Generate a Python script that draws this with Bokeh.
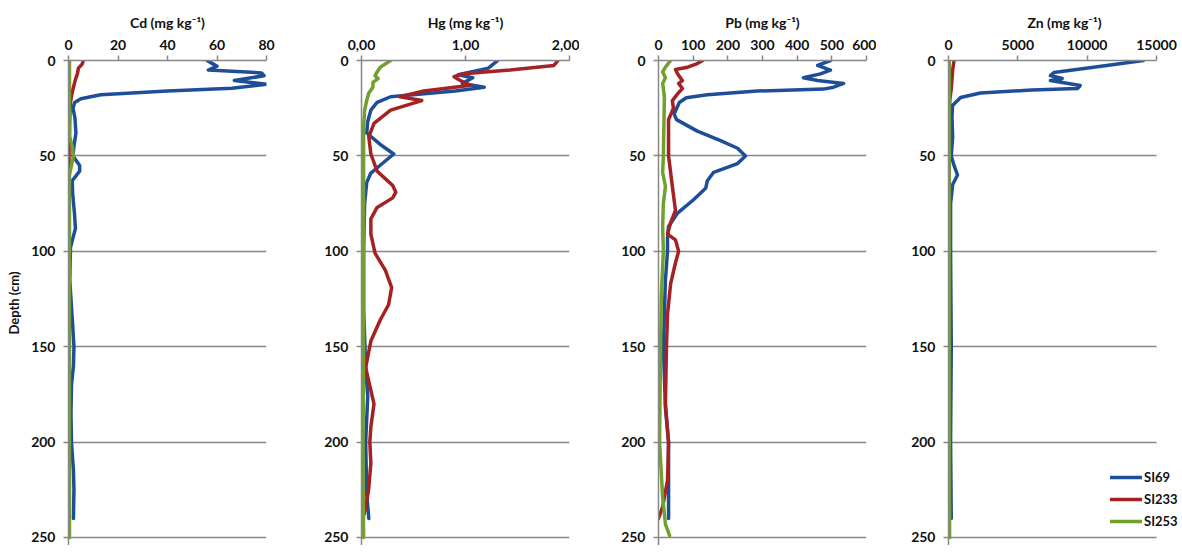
from bokeh.plotting import figure
from bokeh.models import Range1d, FixedTicker, Legend, LegendItem
from bokeh.layouts import row
from bokeh.embed import file_html
from bokeh.resources import INLINE

# ---------------- data (depth in cm, concentrations in mg/kg) ----------------
core_names = ["SI69", "SI233", "SI253"]

cd_si69_depth = [0, 1.5, 3, 5, 6.5, 8, 10.5, 12.5, 14.5, 16, 18, 20, 22, 25, 30, 38, 45, 50, 55, 58, 63, 70, 80, 88, 98, 115, 135, 150, 160, 170, 185, 200, 215, 225, 240]
cd_si69 = [56, 58, 60, 56.5, 78, 79, 67, 80, 66, 40, 13, 5, 2.5, 1.8, 2.6, 3, 2.2, 1.8, 4.5, 4.5, 1.5, 1.7, 2.4, 2.8, 0.8, 0.5, 1.5, 2.2, 2, 1.2, 1, 1.2, 2, 2.2, 2]
cd_si233_depth = [0, 2, 4, 7, 10, 14, 18, 22, 30, 40, 50, 60, 80, 120, 160, 200, 240]
cd_si233 = [6, 5.5, 4, 3.6, 2.8, 2, 1.3, 0.8, 0.5, 0.3, 0.2, 0.3, 0.3, 0.3, 0.3, 0.3, 0.3]
cd_si253_depth = [0, 20, 40, 45, 50, 55, 60, 100, 150, 200, 250]
cd_si253 = [0.4, 0.4, 0.5, 1.5, 2, 1.2, 0.4, 0.4, 0.4, 0.4, 0.4]

hg_si69_depth = [0, 4, 7.5, 9, 12, 14, 16, 19, 22, 26, 32, 38, 44, 49, 54, 59, 64, 75, 100, 130, 160, 176, 200, 227, 240]
hg_si69 = [1.31, 1.22, 0.93, 1.07, 0.97, 1.18, 0.9, 0.28, 0.15, 0.09, 0.06, 0.05, 0.18, 0.31, 0.2, 0.09, 0.05, 0.03, 0.02, 0.02, 0.04, 0.06, 0.04, 0.05, 0.07]
hg_si233_depth = [0, 2.6, 5, 7, 8.5, 10.5, 13, 16, 19, 21, 26, 33, 40, 49, 58, 65.5, 69, 72, 77, 83, 91, 101, 110, 119, 128, 136, 147, 161, 180, 192, 200, 211, 224, 235, 240]
hg_si233 = [1.89, 1.85, 1.43, 0.98, 0.89, 0.95, 1.05, 0.6, 0.37, 0.58, 0.28, 0.12, 0.07, 0.09, 0.15, 0.3, 0.33, 0.3, 0.15, 0.09, 0.09, 0.13, 0.23, 0.29, 0.26, 0.18, 0.09, 0.04, 0.12, 0.09, 0.08, 0.09, 0.07, 0.04, 0.01]
hg_si253_depth = [0, 3.5, 6, 8, 9.5, 11.5, 14, 17, 21, 26, 35, 60, 100, 150, 200, 250]
hg_si253 = [0.28, 0.18, 0.15, 0.13, 0.16, 0.11, 0.11, 0.07, 0.05, 0.03, 0.02, 0.02, 0.02, 0.02, 0.015, 0.02]

pb_si69_depth = [0, 2.6, 5, 7, 9, 10.5, 12, 14, 15, 16, 18, 19.5, 22, 28, 31, 37, 42, 46, 50, 54, 58.6, 63, 67, 73, 80, 87, 93, 100, 115, 150, 182, 200, 240]
pb_si69 = [496, 459, 496, 467, 418, 459, 534, 505, 476, 285, 141, 80, 60, 45, 52, 112, 179, 228, 251, 228, 159, 141, 136, 101, 55, 29, 26, 26, 20, 14, 20, 29, 29]
pb_si233_depth = [0, 1.6, 3.5, 4.7, 7, 10.5, 12, 14.7, 17.5, 21, 25, 31, 50, 66, 78.6, 85, 91, 94, 100, 106, 117, 133, 150, 180, 200, 220, 234, 240]
pb_si233 = [127, 112, 84, 49, 55, 69, 58, 69, 55, 40, 43, 29, 29, 40, 49, 35, 26, 49, 58, 49, 35, 26, 23, 20, 29, 26, 12, 0]
pb_si253_depth = [0, 3.5, 6, 9, 12, 19, 50, 58.6, 66, 75, 87, 100, 124, 150, 200, 229, 243, 249]
pb_si253 = [35, 20, 12, 20, 12, 17, 14, 12, 20, 14, 12, 14, 8, 6, 3, 12, 20, 32]

zn_si69_depth = [0, 3, 6.3, 7.9, 9.4, 10.5, 13.1, 14.7, 15.5, 17, 19.4, 23.6, 30, 40, 50, 55, 60, 65, 75, 100, 150, 200, 240]
zn_si69 = [14060, 11000, 7600, 7350, 8200, 7350, 9500, 9300, 6000, 2300, 870, 290, 250, 300, 200, 400, 650, 300, 150, 150, 200, 150, 200]
zn_si233_depth = [0, 5, 10, 15, 20, 30, 60, 100, 150, 200, 240]
zn_si233 = [400, 300, 250, 200, 100, 60, 50, 50, 50, 50, 50]
zn_si253_depth = [0, 50, 100, 150, 200, 250]
zn_si253 = [60, 60, 60, 60, 60, 80]

panel_titles = ["Cd (mg kg\u207b\u00b9)", "Hg (mg kg\u207b\u00b9)", "Pb (mg kg\u207b\u00b9)", "Zn (mg kg\u207b\u00b9)"]
x_max = [80, 2, 600, 15000]
x_ticks = [[0, 20, 40, 60, 80], [0, 1, 2], [0, 100, 200, 300, 400, 500, 600], [0, 5000, 10000, 15000]]
x_tick_labels = [None, {0: "0,00", 1: "1,00", 2: "2,00"}, None, None]
depth_ticks = [0, 50, 100, 150, 200, 250]

panels_data = [
    [(cd_si69_depth, cd_si69), (cd_si233_depth, cd_si233), (cd_si253_depth, cd_si253)],
    [(hg_si69_depth, hg_si69), (hg_si233_depth, hg_si233), (hg_si253_depth, hg_si253)],
    [(pb_si69_depth, pb_si69), (pb_si233_depth, pb_si233), (pb_si253_depth, pb_si253)],
    [(zn_si69_depth, zn_si69), (zn_si233_depth, zn_si233), (zn_si253_depth, zn_si253)],
]

# ---------------- styling ----------------
FONT = "Lato"
COLORS = ["#1F4E99", "#A52224", "#71A12C"]
GREY = "#878787"
axis_w = [198, 208, 208, 208]       # pixel length of each x axis
frame_w = [198, 208, 208, 232]      # last frame is wider to hold the legend
border_l = [68, 85, 79, 72]
border_r = [10, 10, 10, 0]
FRAME_H = 485
Y_MAX = 254.2

figs = []
for i in range(4):
    x_end = x_max[i] * frame_w[i] / axis_w[i]
    p = figure(frame_width=frame_w[i], frame_height=FRAME_H,
               x_range=Range1d(0, x_end), y_range=Range1d(Y_MAX, 0),
               x_axis_location="above", toolbar_location=None, output_backend="svg",
               min_border_left=border_l[i], min_border_right=border_r[i],
               min_border_top=60, min_border_bottom=0)
    p.outline_line_color = None
    p.background_fill_color = "white"
    p.border_fill_color = "white"
    p.xgrid.visible = False
    p.ygrid.ticker = FixedTicker(ticks=depth_ticks[1:])
    p.ygrid.grid_line_color = GREY
    p.ygrid.grid_line_width = 1.5
    p.ygrid.cross_bounds = (0, x_max[i])

    for ax in (p.xaxis[0], p.yaxis[0]):
        ax.axis_line_color = GREY
        ax.axis_line_width = 1.5
        ax.major_tick_line_color = GREY
        ax.major_tick_line_width = 1.5
        ax.minor_tick_line_color = None
        ax.major_tick_in = 0
        ax.major_tick_out = 5
        ax.major_label_text_font = FONT
        ax.major_label_text_font_style = "bold"
        ax.major_label_text_font_size = "14px"
        ax.major_label_text_color = "#111111"

    xa = p.xaxis[0]
    xa.bounds = (0, x_max[i])
    xa.ticker = FixedTicker(ticks=x_ticks[i])
    if x_tick_labels[i]:
        xa.major_label_overrides = x_tick_labels[i]
    xa.major_label_standoff = 6
    xa.axis_label = panel_titles[i]
    xa.axis_label_text_font = FONT
    xa.axis_label_text_font_style = "bold"
    xa.axis_label_text_font_size = "14px"
    xa.axis_label_text_color = "#111111"
    xa.axis_label_standoff = 6

    ya = p.yaxis[0]
    ya.ticker = FixedTicker(ticks=depth_ticks)
    ya.major_label_standoff = 8
    if i == 0:
        ya.axis_label = "Depth (cm)"
        ya.axis_label_text_font = FONT
        ya.axis_label_text_font_style = "bold"
        ya.axis_label_text_font_size = "13px"
        ya.axis_label_text_color = "#111111"
        ya.axis_label_standoff = 6

    renderers = []
    for k, (d, v) in enumerate(panels_data[i]):
        r = p.line(v, d, line_color=COLORS[k], line_width=3.5, line_join="round", line_cap="round")
        renderers.append(r)

    if i == 3:
        legend = Legend(items=[LegendItem(label=core_names[k], renderers=[renderers[k]]) for k in range(3)],
                        location=(162, 14), orientation="vertical",
                        glyph_width=32, glyph_height=20, label_height=20, spacing=2,
                        padding=0, margin=0, label_standoff=2,
                        label_text_font=FONT, label_text_font_style="bold",
                        label_text_font_size="13px", label_text_color="#111111",
                        border_line_color=None, background_fill_alpha=0)
        p.add_layout(legend, "center")
    figs.append(p)

layout = row(*figs)
open("out.html", "w").write(file_html(layout, INLINE))
